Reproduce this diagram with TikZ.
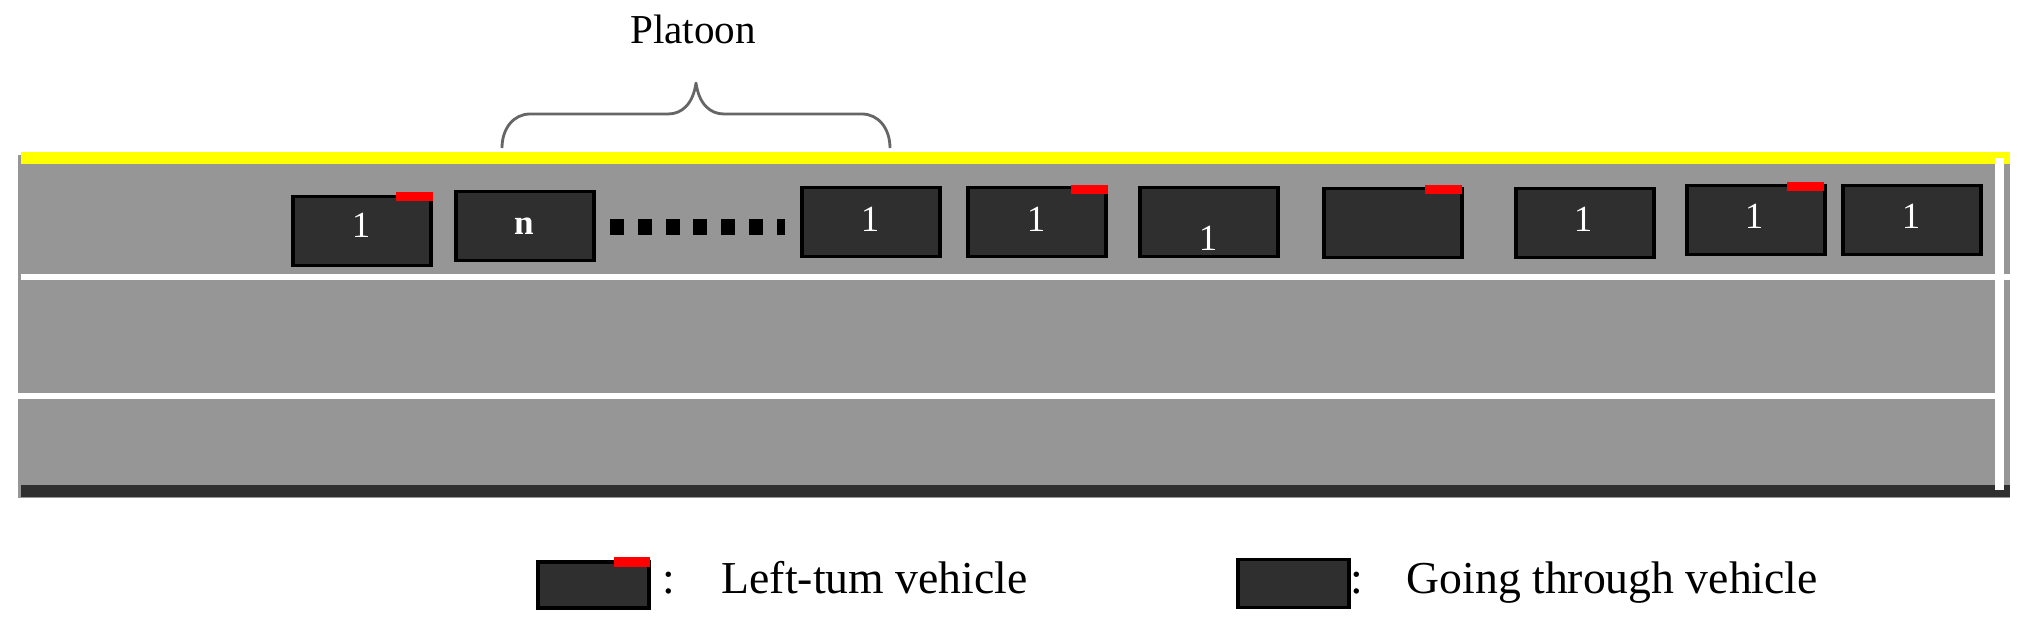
\documentclass[tikz,border=0pt]{standalone}
\usepackage{xcolor}
\usepackage{fontspec}
\setmainfont{Liberation Serif}
\usetikzlibrary{positioning}
\definecolor{roadgray}{HTML}{969696}
\definecolor{cardark}{HTML}{2F2F2F}
\definecolor{lineyellow}{HTML}{FFFF00}
\definecolor{flagred}{HTML}{FF0000}

\begin{document}
\begin{tikzpicture}[
  vehicle/.style={
    rectangle,
    draw=black,
    line width=0.9pt,
    fill=cardark,
    inner sep=0pt,
    minimum width=1.38cm,
    minimum height=0.69cm
  },
  flag/.style={
    rectangle,
    fill=flagred,
    inner sep=0pt,
    minimum width=0.37cm,
    minimum height=0.09cm
  },
  number/.style={
    text=white,
    inner sep=0pt,
    font=\fontsize{10.5}{10.5}\selectfont
  },
  caption/.style={
    inner sep=0pt,
    anchor=base west,
    font=\fontsize{13}{13}\selectfont
  }
]
  \useasboundingbox (0,0) rectangle (20.28,6.26);

  % Road
  \fill[roadgray] (0.18,4.71) rectangle (20.10,1.28);
  \fill[lineyellow] (0.21,4.74) rectangle (20.10,4.62);
  \fill[cardark] (0.21,1.41) rectangle (20.10,1.29);

  % Lane lines
  \fill[white] (0.21,3.52) rectangle (20.10,3.46);
  \fill[white] (0.18,2.33) rectangle (19.95,2.27);
  \fill[white] (19.95,4.68) rectangle (20.04,1.36);

  % Vehicles
  \node[vehicle] (car1) at (3.62,3.95) {};
  \node[vehicle] (car2) at (5.25,4.00) {};
  \node[vehicle] (car3) at (8.71,4.04) {};
  \node[vehicle] (car4) at (10.37,4.04) {};
  \node[vehicle] (car5) at (12.09,4.04) {};
  \node[vehicle] (car6) at (13.93,4.03) {};
  \node[vehicle] (car7) at (15.85,4.03) {};
  \node[vehicle] (car8) at (17.56,4.06) {};
  \node[vehicle] (car9) at (19.12,4.06) {};

  % Left-turn flags
  \node[flag] (flag1) at (4.14,4.29) {};
  \node[flag] (flag4) at (10.89,4.36) {};
  \node[flag] (flag6) at (14.43,4.36) {};
  \node[flag] (flag8) at (18.05,4.39) {};

  % Numbers
  \node[number] (num1) at (3.61,4.01) {1};
  \node[number,font=\fontsize{10}{10}\selectfont\bfseries] (num2) at (5.24,4.00) {n};
  \node[number] (num3) at (8.70,4.07) {1};
  \node[number] (num4) at (10.36,4.07) {1};
  \node[number] (num5) at (12.08,3.88) {1};
  \node[number] (num7) at (15.83,4.07) {1};
  \node[number] (num8) at (17.54,4.10) {1};
  \node[number] (num9) at (19.11,4.10) {1};

  % Dots between the vehicles
  \foreach \i in {0,...,5} {
    \fill[black] ({6.10+0.278*\i},3.91) rectangle ({6.24+0.278*\i},4.07);
  }
  \fill[black] (7.77,3.91) rectangle (7.85,4.07);

  % Platoon brace
  \node[inner sep=0pt,font=\fontsize{11.7}{11.7}\selectfont] (platoon) at (6.93,5.97) {Platoon};
  \coordinate (braceleft) at (5.02,4.78);
  \coordinate (braceright) at (8.90,4.78);
  \coordinate (bracetip) at (6.96,5.43);
  \draw[line width=0.8pt,line join=round,black!60] (braceleft) .. controls (5.02,4.98) and (5.14,5.12) .. (5.30,5.12)
    -- (6.68,5.12) .. controls (6.82,5.12) and (6.93,5.22) .. (bracetip)
    .. controls (6.99,5.22) and (7.10,5.12) .. (7.24,5.12)
    -- (8.62,5.12) .. controls (8.78,5.12) and (8.90,4.98) .. (braceright);

  % Legend
  \node[vehicle,minimum width=1.11cm,minimum height=0.46cm] (legendturn) at (5.935,0.41) {};
  \node[flag,minimum width=0.36cm,minimum height=0.10cm] (legendflag) at (6.32,0.64) {};
  \node[caption] (colonturn) at (6.62,0.33) {:};
  \node[caption] (turnlabel) at (7.21,0.33) {Left-tum vehicle};
  \node[caption] (colongoing) at (13.50,0.33) {:};
  \node[vehicle,minimum width=1.11cm,minimum height=0.48cm] (legendgoing) at (12.935,0.425) {};
  \node[caption] (goinglabel) at (14.06,0.33) {Going through vehicle};
\end{tikzpicture}
\end{document}
